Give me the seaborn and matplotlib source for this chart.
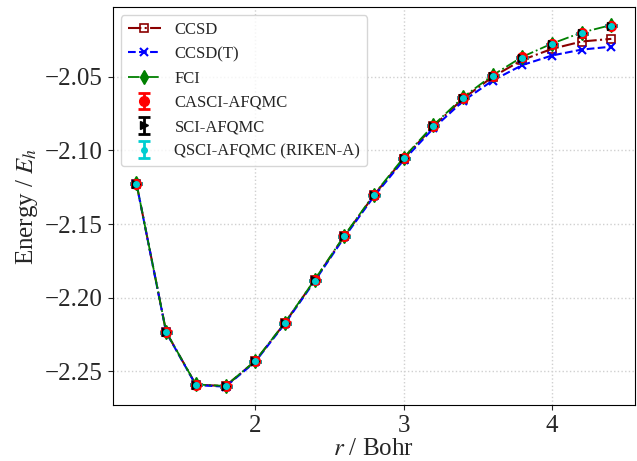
import matplotlib
matplotlib.use("Agg")
import matplotlib.pyplot as plt
import seaborn as sns

# bond length (Bohr)
r = [1.2, 1.4, 1.6, 1.8, 2.0, 2.2, 2.4, 2.6, 2.8, 3.0, 3.2, 3.4, 3.6, 3.8, 4.0, 4.2, 4.4]

# energies (Hartree)
ccsd = [-2.1225, -2.2233, -2.2590, -2.2600, -2.2431, -2.2171, -2.1882, -2.1583, -2.1304,
        -2.1056, -2.0837, -2.0648, -2.0500, -2.0385, -2.0310, -2.0260, -2.0242]
ccsd_t = [-2.1226, -2.2235, -2.2593, -2.2604, -2.2435, -2.2176, -2.1888, -2.1590, -2.1312,
          -2.1066, -2.0850, -2.0665, -2.0525, -2.0420, -2.0355, -2.0315, -2.0295]
fci = [-2.1224, -2.2232, -2.2589, -2.2599, -2.2429, -2.2169, -2.1879, -2.1579, -2.1299,
       -2.1049, -2.0829, -2.0639, -2.0489, -2.0364, -2.0274, -2.0199, -2.0148]
casci_afqmc = [-2.1225, -2.2233, -2.2590, -2.2601, -2.2431, -2.2171, -2.1881, -2.1581, -2.1302,
               -2.1052, -2.0832, -2.0642, -2.0492, -2.0368, -2.0279, -2.0203, -2.0153]
casci_err = [0.0004, 0.0004, 0.0005, 0.0005, 0.0004, 0.0004, 0.0004, 0.0004, 0.0004,
             0.0004, 0.0004, 0.0004, 0.0004, 0.0004, 0.0004, 0.0004, 0.0004]
sci_afqmc = [-2.1226, -2.2234, -2.2591, -2.2601, -2.2432, -2.2172, -2.1882, -2.1582, -2.1302,
             -2.1052, -2.0833, -2.0643, -2.0493, -2.0369, -2.0280, -2.0204, -2.0154]
sci_err = [0.0003, 0.0003, 0.0004, 0.0004, 0.0003, 0.0003, 0.0003, 0.0003, 0.0003,
           0.0003, 0.0003, 0.0003, 0.0003, 0.0003, 0.0003, 0.0003, 0.0003]
qsci_afqmc = [-2.1226, -2.2235, -2.2591, -2.2602, -2.2432, -2.2173, -2.1883, -2.1583, -2.1303,
              -2.1053, -2.0833, -2.0643, -2.0493, -2.0369, -2.0280, -2.0204, -2.0152]
qsci_err = [0.0004, 0.0004, 0.0005, 0.0005, 0.0004, 0.0004, 0.0004, 0.0004, 0.0004,
            0.0004, 0.0004, 0.0004, 0.0004, 0.0004, 0.0004, 0.0004, 0.0004]

sns.set_style("white")
plt.rcParams["font.family"] = ["Liberation Serif", "DejaVu Serif"]
plt.rcParams["mathtext.fontset"] = "stix"
plt.rcParams["xtick.bottom"] = True
plt.rcParams["ytick.left"] = True

fig, ax = plt.subplots(figsize=(6.37, 4.61), dpi=100)
fig.subplots_adjust(left=0.177, right=0.997, top=0.985, bottom=0.121)

sns.lineplot(x=r, y=ccsd, ax=ax, color="darkred", linestyle="-.", lw=1.5,
             marker="s", ms=6, mfc="none", mec="darkred", mew=1.2, label="CCSD")
sns.lineplot(x=r, y=ccsd_t, ax=ax, color="blue", linestyle="--", lw=1.5,
             marker="x", ms=6, mec="blue", mew=1.5, label="CCSD(T)")
sns.lineplot(x=r, y=fci, ax=ax, color="green", linestyle="-.", lw=1.3,
             marker="d", ms=7, mfc="green", mec="green", mew=1, label="FCI")

ax.errorbar(r, casci_afqmc, yerr=casci_err, fmt="o", color="red", ms=7,
            capsize=4, capthick=2, elinewidth=2, label="CASCI-AFQMC")
ax.errorbar(r, sci_afqmc, yerr=sci_err, fmt=">", color="black", ms=6,
            capsize=4, capthick=2, elinewidth=2, label="SCI-AFQMC")
ax.errorbar(r, qsci_afqmc, yerr=qsci_err, fmt="o", color="darkturquoise", ms=4,
            capsize=4, capthick=2, elinewidth=2, label="QSCI-AFQMC (RIKEN-A)")

ax.set_xlabel("$r$ / Bohr", fontsize=18, labelpad=1)
ax.set_ylabel("Energy / $E_h$", fontsize=18)
ax.tick_params(labelsize=18)
ax.set_xticks([2, 3, 4])
ax.set_yticks([-2.25, -2.20, -2.15, -2.10, -2.05])
ax.grid(True, linestyle=":", color="#d0d0d0", lw=1)
for s in ax.spines.values():
    s.set_color("black")
ax.legend(loc="upper left", fontsize=12)

fig.savefig("out.png", dpi=100)
